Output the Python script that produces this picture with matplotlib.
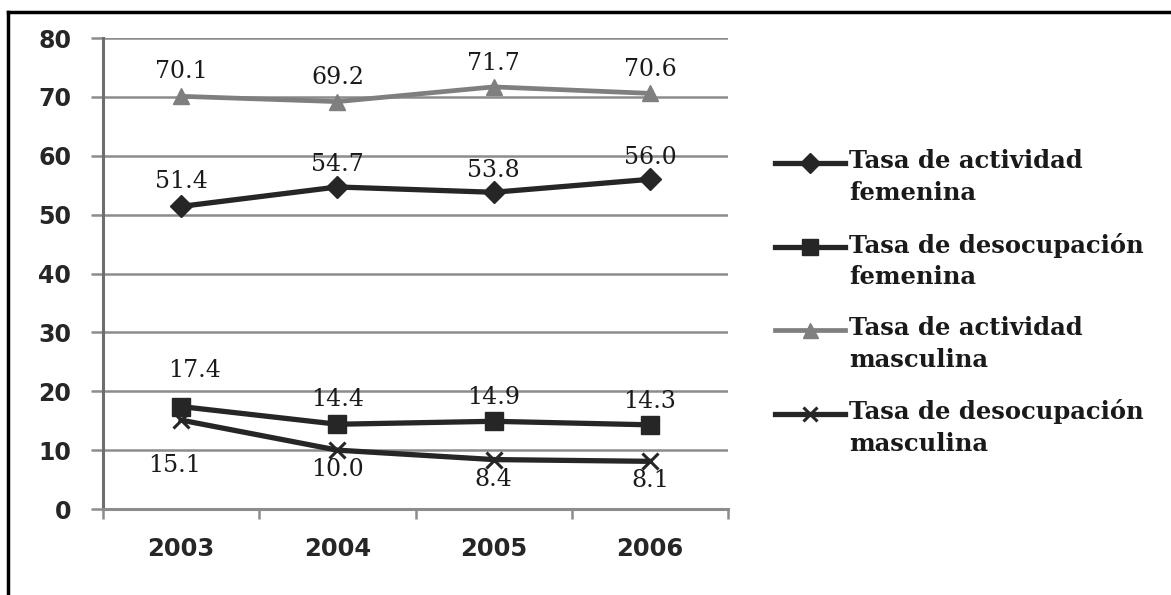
import matplotlib

matplotlib.use("Agg")
import matplotlib.pyplot as plt
from matplotlib.lines import Line2D

# data
years = ["2003", "2004", "2005", "2006"]
act_fem = [51.4, 54.7, 53.8, 56.0]
deso_fem = [17.4, 14.4, 14.9, 14.3]
act_masc = [70.1, 69.2, 71.7, 70.6]
deso_masc = [15.1, 10.0, 8.4, 8.1]
legend_labels = [
    "Tasa de actividad\nfemenina",
    "Tasa de desocupación\nfemenina",
    "Tasa de actividad\nmasculina",
    "Tasa de desocupación\nmasculina",
]

DARK = "#262626"
GRAY = "#7f7f7f"
GRID = "#8c8c8c"

series = [
    # values, colour, marker, marker size, label offsets (pt)
    (act_fem, DARK, "D", 11, [(0, 18), (0, 16), (0, 16), (0, 16)]),
    (deso_fem, DARK, "s", 13, [(10, 26), (0, 18), (0, 17), (0, 17)]),
    (act_masc, GRAY, "^", 12, [(0, 18), (0, 17), (0, 17), (0, 17)]),
    (deso_masc, DARK, "x", 11, [(-5, -33), (0, -14), (0, -14), (0, -14)]),
]

fig = plt.figure(figsize=(11.71, 5.95), dpi=100, facecolor="white")
ax = fig.add_axes([0.088, 0.1445, 0.5337, 0.7916])

x = list(range(len(years)))
for values, color, marker, ms, offsets in series:
    mew = 2.2 if marker == "x" else 1
    ax.plot(x, values, color=color, lw=3.8 if color == DARK else 3.4,
            marker=marker, markersize=ms, markeredgewidth=mew,
            markerfacecolor=color, markeredgecolor=color, zorder=3,
            solid_joinstyle="round")
    for xi, v, (dx, dy) in zip(x, values, offsets):
        ax.annotate(f"{v:.1f}", (xi, v), xytext=(dx, dy), textcoords="offset points",
                    ha="center", va="center", fontsize=17, family="DejaVu Serif",
                    color="#1a1a1a", zorder=4)

ax.set_xlim(-0.5, len(years) - 0.5)
ax.set_ylim(0, 80)
ax.set_yticks(range(0, 81, 10))
ax.yaxis.grid(True, color=GRID, lw=1.8)
ax.set_axisbelow(True)

ax.set_xticks(x)
ax.set_xticklabels(years)
ax.set_xticks([i - 0.5 for i in range(len(years) + 1)], minor=True)
ax.tick_params(axis="x", which="major", length=0, pad=20, labelsize=17.5, labelcolor=DARK)
ax.tick_params(axis="x", which="minor", length=7, width=1.8, color=GRID, direction="out")
ax.tick_params(axis="y", length=9, width=1.8, color=GRID, pad=14, labelsize=17, labelcolor=DARK)
for lab in ax.get_xticklabels() + ax.get_yticklabels():
    lab.set_fontweight("bold")

for side in ("top", "right"):
    ax.spines[side].set_visible(False)
ax.spines["left"].set_color("#6e6e6e")
ax.spines["left"].set_linewidth(2.2)
ax.spines["bottom"].set_color(GRID)
ax.spines["bottom"].set_linewidth(2.2)

# legend, drawn by hand so the key sits on the first text line
W, H = 1171, 595
leg_top = 163
pitch = 83.5
for i, (values, color, marker, ms, _) in enumerate(series):
    y = 1 - (leg_top + i * pitch) / H
    fig.add_artist(Line2D([775 / W, 845 / W], [y, y], color=color,
                          lw=3.8 if color == DARK else 3.4))
    fig.add_artist(Line2D([810 / W], [y], marker=marker, color=color,
                          markersize=ms * 0.9, markeredgewidth=2.2 if marker == "x" else 1,
                          markerfacecolor=color, markeredgecolor=color, lw=0))
    fig.text(849 / W, y + 14 / H, legend_labels[i], ha="left", va="top",
             fontsize=17.5, family="DejaVu Serif", fontweight="bold", color="#1a1a1a",
             linespacing=1.4)

# frame on the left and top edges
fig.add_artist(Line2D([8 / W, 8 / W], [0, 1 - 12 / H], color="black", lw=2.5))
fig.add_artist(Line2D([8 / W, 1], [1 - 12 / H, 1 - 12 / H], color="black", lw=2.5))

fig.savefig("out.png", dpi=100, facecolor="white")
